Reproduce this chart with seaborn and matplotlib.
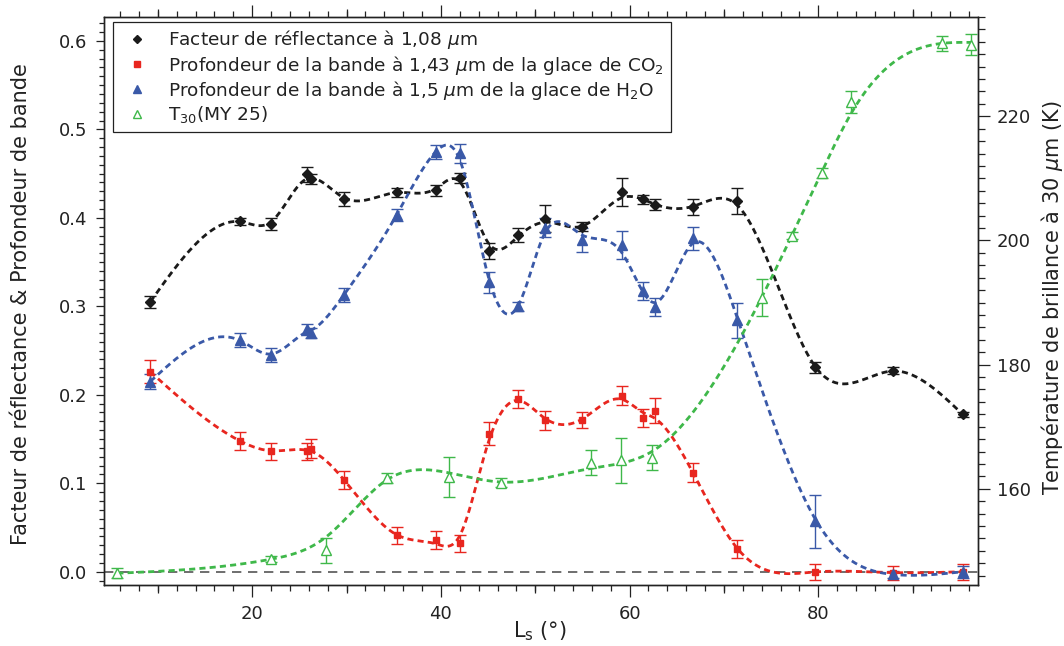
import numpy as np
import matplotlib
matplotlib.use("Agg")
import matplotlib.pyplot as plt
from matplotlib.lines import Line2D
from matplotlib.ticker import MultipleLocator, FormatStrFormatter
import seaborn as sns

# ===================== DATA =====================
ls_pts = [9.2, 18.7, 22.0, 25.8, 26.2, 29.7, 35.3, 39.5, 42.0, 45.05, 48.2,
          51.0, 55.0, 59.2, 61.4, 62.65, 66.7, 71.4, 79.7, 87.9, 95.3]

refl = [0.305, 0.396, 0.393, 0.449, 0.444, 0.421, 0.429, 0.431, 0.445, 0.363, 0.381,
        0.399, 0.390, 0.429, 0.421, 0.415, 0.412, 0.419, 0.231, 0.227, 0.178]
refl_err = [0.007, 0.004, 0.007, 0.008, 0.006, 0.008, 0.005, 0.006, 0.006, 0.009, 0.008,
            0.015, 0.005, 0.016, 0.005, 0.006, 0.009, 0.015, 0.006, 0.004, 0.003]

co2 = [0.226, 0.148, 0.136, 0.136, 0.139, 0.104, 0.041, 0.036, 0.032, 0.156, 0.195,
       0.171, 0.172, 0.199, 0.174, 0.182, 0.112, 0.026, 0.000, -0.001, 0.000]
co2_err = [0.013, 0.010, 0.010, 0.010, 0.011, 0.010, 0.010, 0.010, 0.010, 0.013, 0.010,
           0.011, 0.009, 0.011, 0.010, 0.014, 0.011, 0.010, 0.009, 0.008, 0.009]

h2o = [0.215, 0.262, 0.245, 0.274, 0.270, 0.313, 0.403, 0.474, 0.473, 0.327, 0.300,
       0.389, 0.375, 0.369, 0.317, 0.299, 0.377, 0.284, 0.057, -0.003, 0.000]
h2o_err = [0.008, 0.008, 0.008, 0.006, 0.006, 0.008, 0.007, 0.008, 0.011, 0.012, 0.005,
           0.011, 0.014, 0.016, 0.010, 0.010, 0.013, 0.020, 0.030, 0.004, 0.007]

ls_t30 = [5.7, 22.0, 27.8, 34.3, 40.9, 46.4, 55.9, 59.1, 62.4, 74.0, 77.2, 80.4, 83.5, 93.1, 96.2]
t30 = [146.4, 148.7, 150.1, 161.8, 161.9, 161.0, 164.2, 164.6, 165.0, 190.8, 200.8,
       210.9, 222.3, 231.8, 231.5]
t30_err = [0.8, 0.5, 2.0, 0.8, 3.2, 0.7, 2.0, 3.6, 2.0, 3.0, 0.6, 0.8, 1.8, 1.2, 1.7]

labels = [r"Facteur de réflectance à 1,08 $\mathit{\mu}$m",
          r"Profondeur de la bande à 1,43 $\mathit{\mu}$m de la glace de CO$_2$",
          r"Profondeur de la bande à 1,5 $\mathit{\mu}$m de la glace de H$_2$O",
          r"T$_{30}$(MY 25)"]

C_BLACK = "#1a1a1a"
C_RED = "#e8261f"
C_BLUE = "#3a59a8"
C_GREEN = "#3fb84a"


# ===================== SMOOTHING SPLINE =====================
def smoothing_spline(x, y, sig, frac, step=0.1):
    """Weighted smoothing spline with chi2 = frac * n, on a fine grid."""
    x, y, sig = np.asarray(x), np.asarray(y), np.asarray(sig)
    xg = np.arange(x.min(), x.max() + step / 2, step)
    m = len(xg)
    pos = (x - xg[0]) / step
    i0 = np.clip(np.floor(pos).astype(int), 0, m - 2)
    t = pos - i0
    B = np.zeros((len(x), m))
    B[np.arange(len(x)), i0] = 1 - t
    B[np.arange(len(x)), i0 + 1] = t
    W = np.diag(1 / sig**2)
    D = np.diff(np.eye(m), 2, axis=0) / step**2
    BtW = B.T @ W
    P = step * D.T @ D

    def fit(lam):
        f = np.linalg.solve(BtW @ B + lam * P, BtW @ y)
        chi2 = np.sum(((y - B @ f) / sig) ** 2)
        return f, chi2

    target = frac * len(x)
    lo, hi = -12.0, 8.0
    for _ in range(50):
        mid = 0.5 * (lo + hi)
        _, chi2 = fit(10**mid)
        if chi2 > target:
            hi = mid
        else:
            lo = mid
    f, _ = fit(10**lo)
    return xg, f


# ===================== FIGURE =====================
sns.set_style("ticks")
plt.rcParams["font.family"] = ["DejaVu Sans"]
plt.rcParams["mathtext.fontset"] = "dejavusans"

fig = plt.figure(figsize=(10.64, 6.46), dpi=100)
ax = fig.add_axes([0.0974, 0.0944, 0.8215, 0.8793])
ax2 = ax.twinx()

curve_ls = (0, (2.2, 1.5))
series = [
    (ls_pts, refl, refl_err, C_BLACK, "D", 5, 0.12),
    (ls_pts, co2, co2_err, C_RED, "s", 5, 0.12),
    (ls_pts, h2o, h2o_err, C_BLUE, "^", 7, 0.12),
]

ax.axhline(0, color="#555555", lw=1.2, ls=(0, (5.6, 4.0)), zorder=1)

for xs, ys, es, col, mk, ms, frac in series:
    xg, fg = smoothing_spline(xs, ys, es, frac)
    sns.lineplot(x=xg, y=fg, ax=ax, color=col, lw=2.0, linestyle=curve_ls,
                 estimator=None, sort=False, zorder=3)
    ax.errorbar(xs, ys, yerr=es, fmt="none", ecolor=col, elinewidth=1.0,
                capsize=4.2, capthick=1.0, zorder=2)
    ax.plot(xs, ys, ls="none", marker=mk, ms=ms, color=col, mec=col, zorder=4)

xg, fg = smoothing_spline(ls_t30, t30, t30_err, 0.2)
sns.lineplot(x=xg, y=fg, ax=ax2, color=C_GREEN, lw=2.0, linestyle=curve_ls,
             estimator=None, sort=False, zorder=3)
ax2.errorbar(ls_t30, t30, yerr=t30_err, fmt="none", ecolor=C_GREEN, elinewidth=1.0,
             capsize=4.2, capthick=1.0, zorder=2)
ax2.plot(ls_t30, t30, ls="none", marker="^", ms=7, mfc="white", mec=C_GREEN,
         mew=1.0, zorder=4)

# ===================== AXES =====================
ax.set_xlim(4.25, 96.9)
ax.set_ylim(-0.015, 0.627)
ax2.set_ylim(144.5, 236.0)

ax.xaxis.set_major_locator(MultipleLocator(20))
ax.xaxis.set_minor_locator(MultipleLocator(2))
ax.yaxis.set_major_locator(MultipleLocator(0.1))
ax.yaxis.set_minor_locator(MultipleLocator(0.01))
ax.yaxis.set_major_formatter(FormatStrFormatter("%.1f"))
ax2.yaxis.set_major_locator(MultipleLocator(20))
ax2.yaxis.set_minor_locator(MultipleLocator(2))

ax.tick_params(axis="x", which="both", direction="out", top=True, bottom=True,
               labeltop=False, labelsize=13, colors="#222222", labelcolor="#222222")
ax.tick_params(axis="x", which="major", length=8.5, width=0.9, pad=6)
ax.tick_params(axis="x", which="minor", length=4, width=0.9)
ax.tick_params(axis="y", which="both", direction="out", left=True, right=False,
               labelsize=13, colors="#222222")
ax.tick_params(axis="y", which="major", length=6, width=0.9, pad=6)
ax.tick_params(axis="y", which="minor", length=3.6, width=0.9)
ax2.tick_params(axis="y", which="both", direction="out", right=True, left=False,
                labelsize=13, colors="#222222")
ax2.tick_params(axis="y", which="major", length=8.6, width=0.9, pad=5)
ax2.tick_params(axis="y", which="minor", length=5, width=0.9)

# intermediate ticks every 10 on bottom and top
for side in ("bottom", "top"):
    sec = ax.secondary_xaxis(side)
    sec.set_xticks([10, 30, 50, 70, 90])
    sec.tick_params(direction="out", length=6, width=0.9, colors="#222222",
                    labelbottom=False, labeltop=False)
    sec.set_xticklabels([])
    for sp in sec.spines.values():
        sp.set_visible(False)

for a in (ax, ax2):
    for sp in a.spines.values():
        sp.set_visible(True)
        sp.set_linewidth(1.0)
        sp.set_color("#222222")

ax.set_xlabel("")
ax.set_ylabel("")
ax2.set_ylabel("")
fig.text(21 / 1064, 1 - 304 / 646, "Facteur de réflectance & Profondeur de bande",
         rotation=90, ha="center", va="center", fontsize=15, color="#222222")
fig.text(1052 / 1064, 1 - 298 / 646,
         r"Température de brillance à 30 $\mathit{\mu}$m (K)",
         rotation=90, ha="center", va="center", fontsize=15, color="#222222")
fig.text(540 / 1064, 1 - 631 / 646, r"L$_\mathrm{s}$ (°)", ha="center", va="center",
         fontsize=15, color="#222222")

# ===================== LEGEND =====================
handles = [
    Line2D([], [], ls="none", marker="D", ms=4.5, color=C_BLACK),
    Line2D([], [], ls="none", marker="s", ms=4.5, color=C_RED),
    Line2D([], [], ls="none", marker="^", ms=6, color=C_BLUE),
    Line2D([], [], ls="none", marker="^", ms=6, mfc="white", mec=C_GREEN, mew=1.0),
]
leg = ax2.legend(handles, labels, loc="upper left",
                 bbox_to_anchor=(113 / 1064, 1 - 22 / 646),
                 bbox_transform=fig.transFigure, borderaxespad=0,
                 fontsize=13.3, frameon=True, fancybox=False, framealpha=1,
                 edgecolor="#222222", borderpad=0.35, handlelength=1.9,
                 handletextpad=0.75, labelspacing=0.12)
leg.get_frame().set_linewidth(0.9)
for txt in leg.get_texts():
    txt.set_color("#222222")

fig.savefig("out.png", dpi=100)
